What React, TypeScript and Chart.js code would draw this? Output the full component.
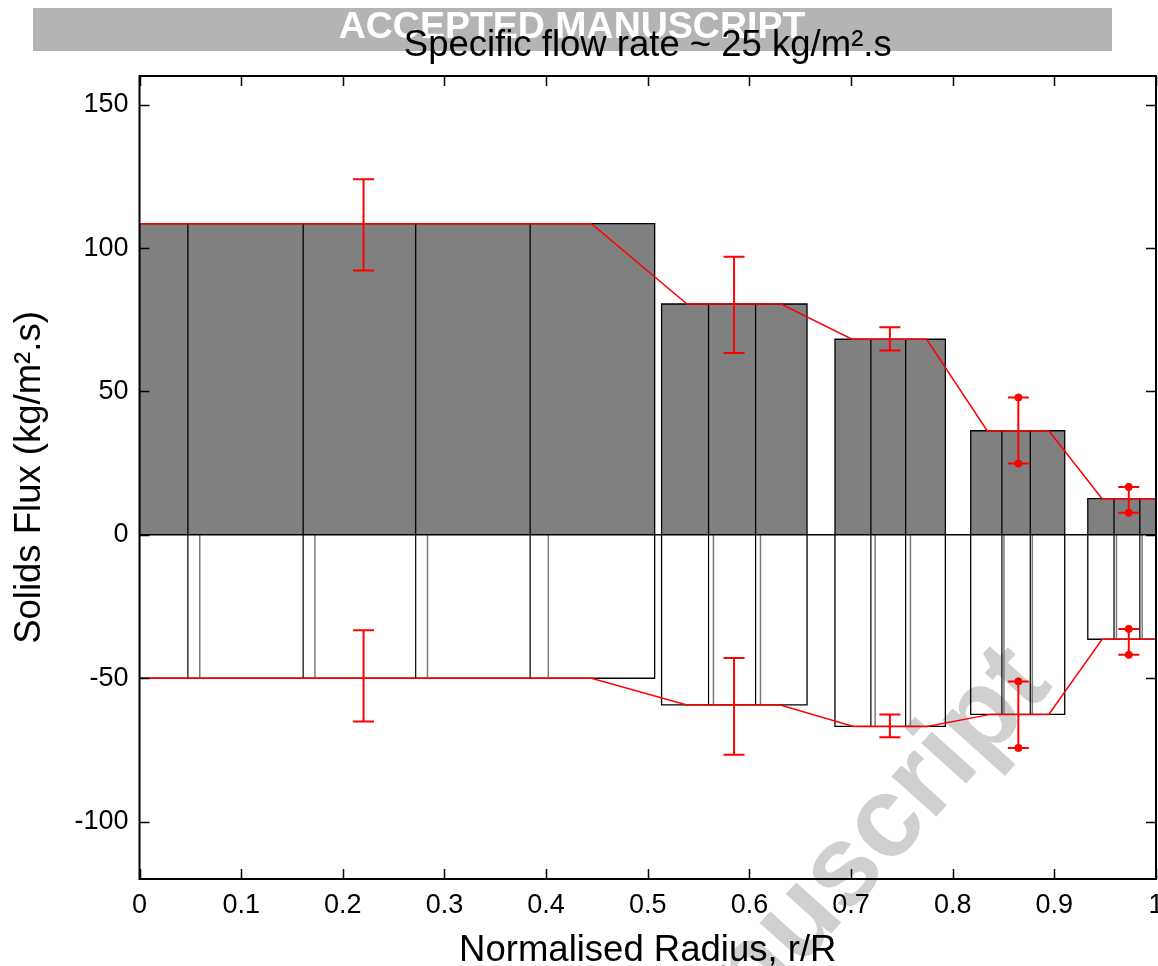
import { useEffect, useRef } from 'react';
import { Chart, registerables } from 'chart.js';

Chart.register(...registerables);

// ---------- data ----------
const xTicks = [0, 0.1, 0.2, 0.3, 0.4, 0.5, 0.6, 0.7, 0.8, 0.9, 1];
const yTicks = [-100, -50, 0, 50, 100, 150];

// annular bins (normalised radius)
const groupLeft = [0, 0.5136, 0.6842, 0.8177, 0.9329];
const groupRight = [0.5068, 0.6567, 0.7928, 0.9102, 1.0];
const upFlux = [108.5, 80.5, 68.2, 36.3, 12.6];
const downFlux = [-50, -59.3, -66.8, -62.6, -36.4];

// probe-position dividers inside each bin
const dividers = [
  [0.0476, 0.161, 0.2717, 0.3843],
  [0.5598, 0.6061],
  [0.7195, 0.7537],
  [0.8484, 0.8763],
  [0.9587, 0.9841],
];
const downDividers = [
  [0.0593, 0.1726, 0.2833, 0.4022],
  [0.5646, 0.6109],
  [0.7237, 0.7584],
  [0.8504, 0.8783],
  [0.9611, 0.9864],
];

// mean profiles
const upProfileX = [0, 0.4446, 0.5386, 0.6311, 0.701, 0.7744, 0.8339, 0.8945, 0.947, 1.0];
const upProfileY = [108.5, 108.5, 80.5, 80.5, 68.2, 68.2, 36.3, 36.3, 12.6, 12.6];
const downProfileX = [0, 0.4446, 0.5386, 0.6304, 0.7025, 0.7749, 0.8371, 0.8945, 0.947, 1.0];
const downProfileY = [-50, -50, -59.3, -59.3, -66.8, -66.8, -62.6, -62.6, -36.4, -36.4];

// error bars
const errX = [0.2204, 0.5849, 0.7382, 0.8646, 0.9732];
const upErrLow = [92.2, 63.4, 64.3, 24.9, 7.7];
const upErrHigh = [124.0, 97.0, 72.4, 47.9, 16.7];
const downErrLow = [-65.1, -76.7, -70.6, -74.3, -41.8];
const downErrHigh = [-33.3, -42.9, -62.6, -51.1, -32.8];

const titleText = 'Specific flow rate ~ 25 kg/m\u00B2.s';
const xTitle = 'Normalised Radius, r/R';
const yTitle = 'Solids Flux (kg/m\u00B2.s)';
const bannerText = 'ACCEPTED MANUSCRIPT';
const watermarkText = 'Accepted Manuscript';

// ---------- style ----------
const FONT = "'Liberation Sans', Arial, Helvetica, sans-serif";
const RED = '#ff0000';
const dottedGroups = [3, 4];

const gap = (x: number) => ({ x, y: null as any });

function rectData(l: number, r: number, h: number) {
  return [
    { x: l, y: 0 },
    { x: l, y: h },
    { x: r, y: h },
    { x: r, y: 0 },
  ];
}

function segments(xs: number[], h: number) {
  const out: any[] = [];
  xs.forEach((x) => {
    out.push({ x, y: 0 }, { x, y: h }, gap(x));
  });
  return out;
}

const decorPlugin = {
  id: 'decor',
  beforeDraw(chart: any) {
    const ctx = chart.ctx;
    ctx.save();
    ctx.fillStyle = '#ffffff';
    ctx.fillRect(0, 0, chart.width, chart.height);
    // banner
    ctx.fillStyle = '#b4b4b4';
    ctx.fillRect(33, 8, 1079, 43);
    ctx.fillStyle = '#ffffff';
    ctx.font = `bold 37.5px ${FONT}`;
    ctx.textAlign = 'center';
    ctx.textBaseline = 'middle';
    ctx.fillText(bannerText, 572, 28);
    // watermark
    ctx.translate(1054, 686);
    ctx.rotate(-48 * Math.PI / 180);
    ctx.fillStyle = 'rgb(208,208,208)';
    ctx.font = `bold 114px ${FONT}`;
    ctx.textAlign = 'right';
    ctx.textBaseline = 'alphabetic';
    ctx.fillText(watermarkText, 0, 0);
    ctx.restore();
  },
  afterDatasetsDraw(chart: any) {
    const ctx = chart.ctx;
    const { left, right, top, bottom } = chart.chartArea;
    const xs = chart.scales.x;
    const ys = chart.scales.y;
    const tl = 10;
    ctx.save();
    ctx.strokeStyle = '#000';
    ctx.lineWidth = 1.5;
    ctx.beginPath();
    xs.ticks.forEach((t: any) => {
      const px = Math.round(xs.getPixelForValue(t.value)) + 0.5;
      ctx.moveTo(px, bottom);
      ctx.lineTo(px, bottom - tl);
      ctx.moveTo(px, top);
      ctx.lineTo(px, top + tl);
    });
    ys.ticks.forEach((t: any) => {
      const py = Math.round(ys.getPixelForValue(t.value)) + 0.5;
      ctx.moveTo(left, py);
      ctx.lineTo(left + tl, py);
      ctx.moveTo(right, py);
      ctx.lineTo(right - tl, py);
    });
    ctx.stroke();
    ctx.lineWidth = 2;
    ctx.strokeRect(left, top, right - left, bottom - top);
    ctx.restore();
  },
};

export default function App() {
  const ref = useRef<HTMLCanvasElement | null>(null);

  useEffect(() => {
    document.body.style.margin = '0';
    const canvas = ref.current;
    if (!canvas) return;

    const datasets: any[] = [];

    // bars
    groupLeft.forEach((l, i) => {
      datasets.push({
        data: rectData(l, groupRight[i], upFlux[i]),
        showLine: true,
        fill: 'origin',
        backgroundColor: '#808080',
        borderColor: '#000000',
        borderWidth: 1.3,
        pointRadius: 0,
        order: 10,
      });
      datasets.push({
        data: rectData(l, groupRight[i], downFlux[i]),
        showLine: true,
        fill: false,
        backgroundColor: 'rgba(255,255,255,0)',
        borderColor: '#000000',
        borderWidth: 1.3,
        pointRadius: 0,
        order: 10,
      });
    });

    // dividers
    const upDiv: any[] = [];
    const downDivBlack: any[] = [];
    const downDivGrey: any[] = [];
    dividers.forEach((xs, i) => {
      upDiv.push(...segments(xs, upFlux[i]));
      downDivBlack.push(...segments(xs, downFlux[i]));
      downDivGrey.push(...segments(downDividers[i], downFlux[i]));
    });
    datasets.push({ data: upDiv, showLine: true, spanGaps: false, borderColor: '#000', borderWidth: 1.3, pointRadius: 0, order: 8 });
    datasets.push({ data: downDivBlack, showLine: true, spanGaps: false, borderColor: '#000', borderWidth: 1.2, pointRadius: 0, order: 8 });
    datasets.push({ data: downDivGrey, showLine: true, spanGaps: false, borderColor: '#7a7a7a', borderWidth: 1.5, pointRadius: 0, order: 8 });

    // zero baseline
    datasets.push({
      data: [{ x: xTicks[0], y: 0 }, { x: xTicks[xTicks.length - 1], y: 0 }],
      showLine: true, borderColor: '#000', borderWidth: 1.5, pointRadius: 0, order: 7,
    });

    // mean profiles
    datasets.push({
      data: upProfileX.map((x, i) => ({ x, y: upProfileY[i] })),
      showLine: true, borderColor: RED, borderWidth: 1.5, pointRadius: 0, order: 5,
    });
    datasets.push({
      data: downProfileX.map((x, i) => ({ x, y: downProfileY[i] })),
      showLine: true, borderColor: RED, borderWidth: 1.5, pointRadius: 0, order: 5,
    });

    // error bars
    const stems: any[] = [];
    const caps: any[] = [];
    const dots: any[] = [];
    errX.forEach((x, i) => {
      stems.push({ x, y: upErrLow[i] }, { x, y: upErrHigh[i] }, gap(x));
      stems.push({ x, y: downErrLow[i] }, { x, y: downErrHigh[i] }, gap(x));
      caps.push({ x, y: upErrLow[i] }, { x, y: upErrHigh[i] }, { x, y: downErrLow[i] }, { x, y: downErrHigh[i] });
      if (dottedGroups.includes(i)) {
        dots.push({ x, y: upErrLow[i] }, { x, y: upErrHigh[i] }, { x, y: downErrLow[i] }, { x, y: downErrHigh[i] });
      }
    });
    datasets.push({ data: stems, showLine: true, spanGaps: false, borderColor: RED, borderWidth: 2, pointRadius: 0, order: 3 });
    datasets.push({
      data: caps, showLine: false, pointStyle: 'line', pointRadius: 10.5,
      pointBorderWidth: 2, pointBorderColor: RED, borderColor: RED, order: 2,
    });
    datasets.push({
      data: dots, showLine: false, pointStyle: 'circle', pointRadius: 3.6,
      pointBackgroundColor: RED, pointBorderColor: RED, pointBorderWidth: 1, order: 1,
    });

    const tickFont = { family: FONT, size: 27 };
    const titleFont = { family: FONT, size: 36.5, weight: 'normal' as const };

    const chart = new Chart(canvas, {
      type: 'scatter',
      data: { datasets },
      plugins: [decorPlugin],
      options: {
        animation: false,
        responsive: false,
        maintainAspectRatio: false,
        events: [],
        layout: { autoPadding: false, padding: { left: 0, right: 2, top: 0, bottom: 0 } },
        elements: { line: { tension: 0 } },
        plugins: {
          legend: { display: false },
          tooltip: { enabled: false },
          title: {
            display: true,
            text: titleText,
            fullSize: false,
            color: '#000',
            font: titleFont,
            padding: { top: 24, bottom: 8.2 },
          },
        },
        scales: {
          x: {
            type: 'linear',
            position: 'bottom',
            min: 0,
            max: 1,
            grid: { display: false, drawTicks: false },
            border: { display: false },
            ticks: {
              color: '#000',
              font: tickFont,
              padding: 10,
              maxRotation: 0,
              autoSkip: false,
              callback: (v: any) => String(Math.round(Number(v) * 10) / 10),
            },
            title: {
              display: true,
              text: xTitle,
              color: '#000',
              font: titleFont,
              padding: { top: 0, bottom: -7 },
            },
            afterBuildTicks: (s: any) => {
              s.ticks = xTicks.map((v) => ({ value: v }));
            },
            afterFit: (s: any) => {
              s.height = 87;
              s.paddingLeft = 0;
              s.paddingRight = 0;
            },
          },
          y: {
            type: 'linear',
            position: 'left',
            min: -120,
            max: 160,
            grid: { display: false, drawTicks: false },
            border: { display: false },
            ticks: { color: '#000', font: tickFont, padding: 11 },
            title: {
              display: true,
              text: yTitle,
              color: '#000',
              font: titleFont,
              padding: { top: 8, bottom: 0 },
            },
            afterBuildTicks: (s: any) => {
              s.ticks = yTicks.map((v) => ({ value: v }));
            },
            afterFit: (s: any) => {
              s.width = 139.5;
              s.paddingTop = 0;
              s.paddingBottom = 0;
            },
          },
        },
      } as any,
    });

    return () => chart.destroy();
  }, []);

  return <canvas ref={ref} width={1158} height={966} style={{ display: 'block' }} />;
}
